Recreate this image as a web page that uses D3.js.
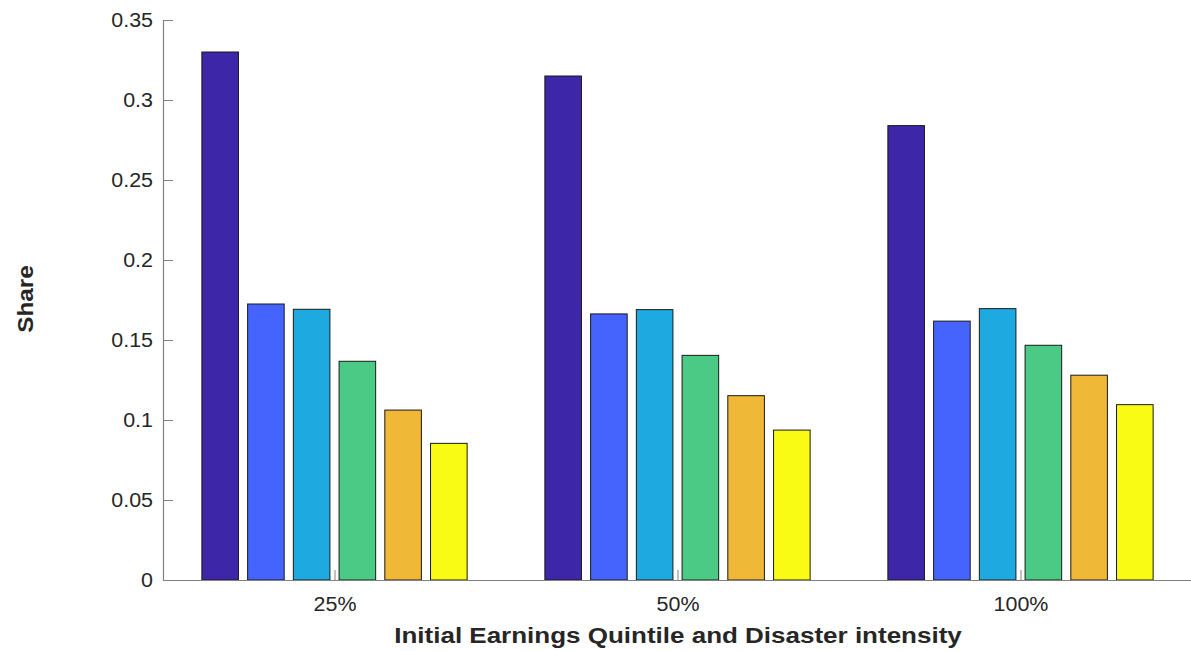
<!DOCTYPE html>
<html><head><meta charset="utf-8">
<script src="https://cdn.jsdelivr.net/npm/d3@7"></script>
<style>body{margin:0;background:#fff}svg{display:block}text{font-family:"Liberation Sans",Arial,sans-serif}</style>
</head><body><svg id="c" width="1191" height="651"></svg>
<script>
const categories = ["25%", "50%", "100%"];
const seriesNames = ["Q1", "Q2", "Q3", "Q4", "Q5", "Q6"];
const q1 = [0.330, 0.315, 0.284];
const q2 = [0.1725, 0.1663, 0.1618];
const q3 = [0.1692, 0.1690, 0.1696];
const q4 = [0.1367, 0.1404, 0.1467];
const q5 = [0.1062, 0.1152, 0.1280];
const q6 = [0.0854, 0.0937, 0.1096];
const colors = ["#3e26a8", "#4464fd", "#1eaae0", "#4bca86", "#efb836", "#f9fb15"];
const yTicks = [0, 0.05, 0.1, 0.15, 0.2, 0.25, 0.3, 0.35];
const yTickLabels = ["0", "0.05", "0.1", "0.15", "0.2", "0.25", "0.3", "0.35"];
const series = [q1, q2, q3, q4, q5, q6];

const svg = d3.select("#c");
const L = 163, R = 1192, T = 20, B = 580;
const x = d3.scaleLinear().domain([0.5, 3.5]).range([L, R]);
const y = d3.scaleLinear().domain([0, 0.35]).range([B, T]);
const inner = d3.scaleBand().domain(d3.range(seriesNames.length)).range([-0.4, 0.4]).paddingInner(0.2).paddingOuter(0.1);
const bw = x(inner.bandwidth()) - x(0);

series.forEach((vals, j) => {
  svg.append("g").selectAll("rect").data(vals).join("rect")
    .attr("x", (d, i) => x(i + 1 + inner(j)))
    .attr("y", d => y(d))
    .attr("width", bw)
    .attr("height", d => y(0) - y(d))
    .attr("fill", colors[j])
    .attr("stroke", "#1a1a1a")
    .attr("stroke-width", 1);
});

function stretch(sel, k) {
  sel.each(function () {
    const w = this.getComputedTextLength();
    d3.select(this).attr("textLength", w * k).attr("lengthAdjust", "spacingAndGlyphs");
  });
}

const yAxis = d3.axisLeft(y).tickValues(yTicks).tickFormat((d, i) => yTickLabels[i]).tickSizeInner(-10).tickSizeOuter(0).tickPadding(10);
const gy = svg.append("g").attr("transform", `translate(${L},0)`).call(yAxis);
const xAxis = d3.axisBottom(x).tickValues([1, 2, 3]).tickFormat((d, i) => categories[i]).tickSizeInner(-10).tickSizeOuter(0).tickPadding(17);
const gx = svg.append("g").attr("transform", `translate(0,${B})`).call(xAxis);
[gx, gy].forEach(g => {
  g.attr("font-family", null).attr("font-size", null);
  g.select(".domain").attr("stroke", "#808080").attr("stroke-width", 1.2);
  g.selectAll(".tick line").attr("stroke", "#808080");
  g.selectAll("text").attr("fill", "#262626").attr("font-size", 19.5);
  stretch(g.selectAll("text"), 1.1);
});

const xl = svg.append("text").attr("x", 678).attr("y", 643).attr("text-anchor", "middle")
  .attr("font-size", 22.5).attr("font-weight", "bold").attr("fill", "#262626")
  .text("Initial Earnings Quintile and Disaster intensity");
stretch(xl, 1.155);
const yl = svg.append("text").attr("transform", "translate(33,299) rotate(-90)").attr("text-anchor", "middle")
  .attr("font-size", 22.5).attr("font-weight", "bold").attr("fill", "#262626")
  .text("Share");
stretch(yl, 1.08);
</script></body></html>
